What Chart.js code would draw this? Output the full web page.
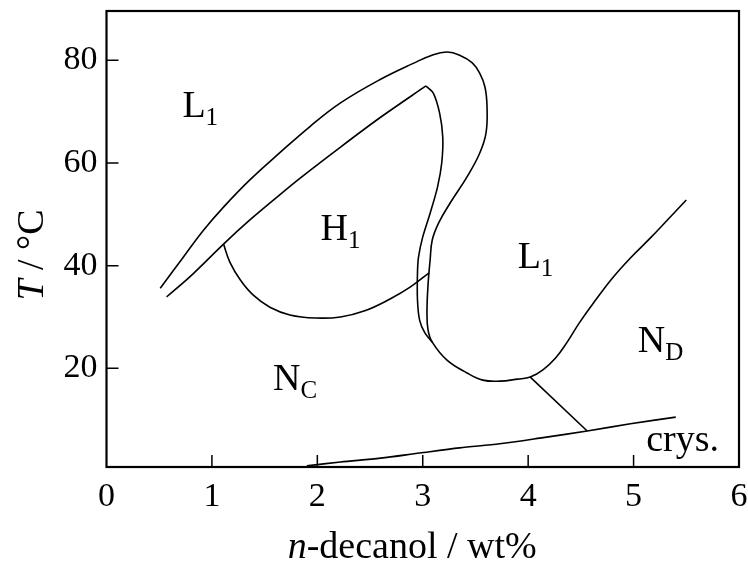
<!DOCTYPE html>
<html>
<head>
<meta charset="utf-8">
<script src="https://cdn.jsdelivr.net/npm/chart.js@4/dist/chart.umd.min.js"></script>
<style>
    body { margin: 0; background: #fff; }
    #wrap { width: 748px; height: 564px; }
</style>
</head>
<body>
<div id="wrap"><canvas id="phaseChart"></canvas></div>
<script>
// phase boundaries, [n-decanol wt%, T °C]
const outerBoundary = [
    [0.51, 35.6], [0.73, 41.7], [0.92, 46.9], [1.11, 51.4], [1.36, 56.7], [1.65, 62.1],
    [1.93, 67.1], [2.22, 71.7], [2.60, 76.3], [2.91, 79.4], [3.10, 81.1], [3.23, 81.6],
    [3.35, 81.0], [3.47, 79.5], [3.54, 77.5], [3.59, 74.8], [3.61, 70.9], [3.60, 65.8],
    [3.54, 61.9], [3.42, 57.3], [3.26, 52.2], [3.15, 48.3], [3.09, 45.0], [3.07, 41.1],
    [3.05, 36.2], [3.04, 30.8], [3.05, 27.5], [3.09, 25.1], [3.23, 21.6], [3.42, 19.1],
    [3.57, 17.7], [3.73, 17.5], [3.90, 17.9], [4.02, 18.3], [4.14, 19.7], [4.26, 22.0],
    [4.37, 25.1], [4.49, 29.0], [4.64, 33.3], [4.80, 37.6], [4.97, 41.5], [5.16, 45.4],
    [5.33, 49.1], [5.50, 52.8]
];
const hexUpper = [
    [0.57, 33.9], [0.79, 37.8], [1.11, 44.2], [1.36, 48.9], [1.62, 53.4], [1.84, 57.1],
    [2.22, 63.1], [2.60, 68.9], [3.03, 75.0]
];
const hexRight = [
    [3.03, 75.0], [3.10, 73.6], [3.16, 69.7], [3.19, 65.0], [3.18, 60.0], [3.14, 55.3],
    [3.07, 50.2], [3.00, 45.6], [2.96, 41.7], [2.95, 38.6], [2.95, 33.3], [2.97, 29.4],
    [3.02, 26.9], [3.09, 25.1]
];
const hexLower = [
    [1.11, 44.2], [1.17, 40.7], [1.27, 37.2], [1.39, 34.3], [1.55, 31.9], [1.74, 30.4],
    [1.98, 29.8], [2.22, 30.0], [2.45, 31.2], [2.69, 33.5], [2.88, 35.8], [3.06, 38.6]
];
const tieLine = [[4.02, 18.3], [4.56, 7.8]];
const crysLine = [
    [1.90, 1.0], [2.22, 1.75], [2.60, 2.5], [2.97, 3.5], [3.35, 4.5], [3.73, 5.3],
    [4.11, 6.4], [4.56, 7.8], [4.97, 9.2], [5.40, 10.5]
];

const xTickMarks = [1, 2, 3, 4, 5];
const yTickValues = [20, 40, 60, 80];

// phase labels: [main, subscript, x, y]
const phaseLabels = [
    ['L', '1', 0.72, 68.9],
    ['H', '1', 2.03, 45.0],
    ['L', '1', 3.90, 39.5],
    ['N', 'C', 1.58, 15.8],
    ['N', 'D', 5.04, 23.2],
    ['crys.', '', 5.12, 3.9]
];

const serif = '"Liberation Serif", "DejaVu Serif", serif';

function curve(points, tension) {
    return {
        data: points.map(p => ({ x: p[0], y: p[1] })),
        showLine: true,
        borderColor: '#000',
        borderWidth: 1.6,
        pointRadius: 0,
        tension: tension,
        fill: false
    };
}

const framePlugin = {
    id: 'framePlugin',
    afterDraw(chart) {
        const { ctx, chartArea: a, scales: { x, y } } = chart;
        ctx.save();
        ctx.strokeStyle = '#000';
        ctx.lineWidth = 2.2;
        ctx.strokeRect(a.left, a.top, a.right - a.left, a.bottom - a.top);

        ctx.lineWidth = 1.5;
        ctx.beginPath();
        xTickMarks.forEach(v => {
            const px = x.getPixelForValue(v);
            ctx.moveTo(px, a.bottom);
            ctx.lineTo(px, a.bottom - 12);
        });
        yTickValues.forEach(v => {
            const py = y.getPixelForValue(v);
            ctx.moveTo(a.left, py);
            ctx.lineTo(a.left + 12, py);
        });
        ctx.stroke();

        ctx.fillStyle = '#000';
        ctx.textBaseline = 'alphabetic';
        ctx.textAlign = 'left';
        phaseLabels.forEach(([main, sub, vx, vy]) => {
            const px = x.getPixelForValue(vx);
            const py = y.getPixelForValue(vy);
            ctx.font = '38px ' + serif;
            ctx.fillText(main, px, py);
            if (sub) {
                const w = ctx.measureText(main).width;
                ctx.font = '25px ' + serif;
                ctx.fillText(sub, px + w, py + 8);
            }
        });

        // x axis title
        const big = '38px ' + serif;
        ctx.font = 'italic ' + big;
        const nW = ctx.measureText('n').width;
        ctx.font = big;
        const restW = ctx.measureText('-decanol / wt%').width;
        let tx = x.getPixelForValue(2.9) - (nW + restW) / 2;
        ctx.font = 'italic ' + big;
        ctx.fillText('n', tx, 558);
        ctx.font = big;
        ctx.fillText('-decanol / wt%', tx + nW, 558);

        // y axis title
        ctx.translate(43, 255);
        ctx.rotate(-Math.PI / 2);
        ctx.font = 'italic ' + big;
        const tW = ctx.measureText('T').width;
        ctx.font = big;
        const unitW = ctx.measureText(' / °C').width;
        const sx = -(tW + unitW) / 2;
        ctx.font = 'italic ' + big;
        ctx.fillText('T', sx, 0);
        ctx.font = big;
        ctx.fillText(' / °C', sx + tW, 0);
        ctx.restore();
    }
};

new Chart(document.getElementById('phaseChart'), {
    type: 'scatter',
    data: {
        datasets: [
            curve(outerBoundary, 0.4),
            curve(hexUpper, 0.3),
            curve(hexRight, 0.3),
            curve(hexLower, 0.4),
            curve(tieLine, 0),
            curve(crysLine, 0.3)
        ]
    },
    options: {
        responsive: true,
        maintainAspectRatio: false,
        animation: false,
        devicePixelRatio: 1,
        layout: { padding: { top: 11, right: 9, left: 0, bottom: 0 } },
        plugins: {
            legend: { display: false },
            tooltip: { enabled: false }
        },
        scales: {
            x: {
                type: 'linear',
                min: 0,
                max: 6,
                grid: { display: false, drawTicks: false },
                border: { display: false },
                ticks: {
                    stepSize: 1,
                    padding: 10,
                    color: '#000',
                    font: { family: serif, size: 34 }
                },
                afterFit(scale) {
                    scale.height = 97;
                    scale.paddingLeft = 0;
                    scale.paddingRight = 0;
                }
            },
            y: {
                type: 'linear',
                min: 0.78,
                max: 89.6,
                grid: { display: false, drawTicks: false },
                border: { display: false },
                afterBuildTicks(scale) {
                    scale.ticks = yTickValues.map(v => ({ value: v }));
                },
                ticks: {
                    padding: 9,
                    color: '#000',
                    font: { family: serif, size: 34 }
                },
                afterFit(scale) {
                    scale.width = 106.5;
                    scale.paddingTop = 0;
                    scale.paddingBottom = 0;
                }
            }
        }
    },
    plugins: [framePlugin]
});
</script>
</body>
</html>
